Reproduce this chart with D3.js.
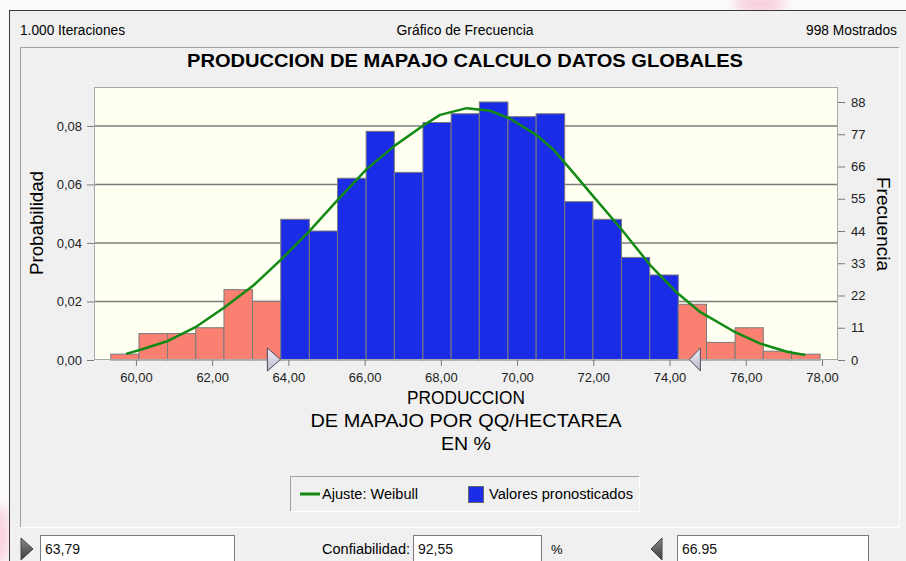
<!DOCTYPE html>
<html>
<head>
<meta charset="utf-8">
<script src="https://cdn.jsdelivr.net/npm/d3@7"></script>
<style>
  body { margin: 0; background: #fbfbfb; }
  svg { display: block; font-family: "Liberation Sans Narrow", "Arial Narrow", "Liberation Sans", Arial, sans-serif; }
</style>
</head>
<body>
<div id="chart"></div>
<script>
// histogram bins (lower edges + last upper edge) and counts
var binEdges = [59.34, 60.08, 60.83, 61.57, 62.31, 63.06, 63.80, 64.55, 65.29, 66.04, 66.78, 67.53, 68.27,
                69.01, 69.76, 70.50, 71.25, 71.99, 72.74, 73.48, 74.23, 74.97, 75.72, 76.46, 77.20, 77.95];
var frequency = [2, 9, 9, 11, 24, 20, 48, 44, 62, 78, 64, 81, 84, 88, 83, 84, 54, 48, 35, 29, 19, 6, 11, 3, 2];
var shown = 998;

// Weibull fit (x value, frequency)
var fitX    = [59.74, 60.10, 60.84, 61.59, 62.31, 63.08, 63.82, 64.57, 65.30, 66.06, 66.80, 67.54, 67.98, 68.68,
               69.29, 69.82, 70.52, 70.95, 71.39, 72.00, 72.70, 73.49, 74.19, 74.80, 75.68, 76.38, 77.08, 77.56];
var fitFreq = [2.1, 3.4, 6.5, 11.4, 17.8, 25.4, 34.4, 44.2, 54.7, 65.2, 73.2, 80.0, 83.6, 85.9,
               85.0, 82.3, 76.6, 71.8, 65.2, 55.8, 45.2, 32.4, 23.0, 16.4, 9.8, 5.6, 2.8, 1.7];

var xTicks = [60, 62, 64, 66, 68, 70, 72, 74, 76, 78];
var probTicks = [0, 0.02, 0.04, 0.06, 0.08];
var freqTicks = [0, 11, 22, 33, 44, 55, 66, 77, 88];

var markerLeft = 63.79, markerRight = 74.52;
var fieldTexts = ["63,79", "92,55", "66.95"];

var W = 906, H = 561;
var plot = { left: 94, right: 838, top: 87, bottom: 360 };

var svg = d3.select("#chart").append("svg")
    .attr("width", W).attr("height", H);

var defs = svg.append("defs");
var blur = defs.append("filter").attr("id", "blur");
blur.append("feGaussianBlur").attr("stdDeviation", 6);
var mg = defs.append("linearGradient").attr("id", "markerGrad").attr("x1", 0).attr("y1", 0).attr("x2", 0).attr("y2", 1);
mg.append("stop").attr("offset", "0%").attr("stop-color", "#f0f0f8");
mg.append("stop").attr("offset", "100%").attr("stop-color", "#b8b8cc");

// faint pink watermark bits
svg.append("ellipse").attr("cx", 760).attr("cy", 4).attr("rx", 26).attr("ry", 10)
    .attr("fill", "#f6a8c8").attr("opacity", 0.55).attr("filter", "url(#blur)");
svg.append("ellipse").attr("cx", 0).attr("cy", 535).attr("rx", 10).attr("ry", 30)
    .attr("fill", "#f6a8c8").attr("opacity", 0.5).attr("filter", "url(#blur)");

// window frame
svg.append("rect").attr("x", 9.5).attr("y", 10.5).attr("width", W).attr("height", H)
    .attr("fill", "#f0f0f0").attr("stroke", "#3a3a3a");

// sunken inner panel
svg.append("path").attr("d", "M20.5,527 V47.5 H899.5").attr("fill", "none").attr("stroke", "#a0a0a0");
svg.append("path").attr("d", "M20.5,527.5 H899.5 V47.5").attr("fill", "none").attr("stroke", "#ffffff");

// header texts
svg.append("text").attr("x", 20).attr("y", 35).attr("font-size", 14)
    .attr("textLength", 105).attr("lengthAdjust", "spacingAndGlyphs").text("1.000 Iteraciones");
svg.append("text").attr("x", 465).attr("y", 35).attr("font-size", 14).attr("text-anchor", "middle")
    .attr("textLength", 137).attr("lengthAdjust", "spacingAndGlyphs").text("Gráfico de Frecuencia");
svg.append("text").attr("x", 897).attr("y", 35).attr("font-size", 14).attr("text-anchor", "end")
    .attr("textLength", 91).attr("lengthAdjust", "spacingAndGlyphs").text("998 Mostrados");

svg.append("text").attr("x", 465).attr("y", 67).attr("font-size", 19).attr("font-weight", "bold")
    .attr("font-family", "Liberation Sans, Arial, sans-serif")
    .attr("text-anchor", "middle").attr("textLength", 556).attr("lengthAdjust", "spacingAndGlyphs")
    .text("PRODUCCION DE MAPAJO CALCULO DATOS GLOBALES");

// scales
var x = d3.scaleLinear().domain([58.9, 78.42]).range([plot.left, plot.right]);
var yProb = d3.scaleLinear().domain([0, 0.0933]).range([plot.bottom, plot.top]);
var yFreq = d3.scaleLinear().domain([0, 0.0933 * shown]).range([plot.bottom, plot.top]);

var comma = function(f) { return function(v) { return d3.format(f)(v).replace(".", ","); }; };

svg.append("rect").attr("x", plot.left).attr("y", plot.top)
    .attr("width", plot.right - plot.left).attr("height", plot.bottom - plot.top)
    .attr("fill", "#fffff2");

// grid
svg.append("g").selectAll("line").data(probTicks.slice(1)).join("line")
    .attr("x1", plot.left).attr("x2", plot.right)
    .attr("y1", d => yProb(d)).attr("y2", d => yProb(d))
    .attr("stroke", "#7c7c7c").attr("stroke-width", 1.5);

// bars
var bins = frequency.map((f, i) => ({ lo: binEdges[i], hi: binEdges[i + 1], f: f }));
svg.append("g").selectAll("rect").data(bins).join("rect")
    .attr("x", d => x(d.lo)).attr("width", d => x(d.hi) - x(d.lo))
    .attr("y", d => yFreq(d.f)).attr("height", d => plot.bottom - yFreq(d.f))
    .attr("fill", d => (d.lo >= markerLeft - 0.02 && d.hi <= markerRight) ? "#1b2ce6" : "#fa8072")
    .attr("stroke", "#7a7a7a").attr("stroke-width", 1);

// fit curve
var line = d3.line().x(d => x(d[0])).y(d => yFreq(d[1]));
svg.append("path").datum(fitX.map((v, i) => [v, fitFreq[i]]))
    .attr("d", line).attr("fill", "none").attr("stroke", "#138a13").attr("stroke-width", 2.5)
    .attr("stroke-linejoin", "round");

// plot border
svg.append("rect").attr("x", plot.left + 0.5).attr("y", plot.top + 0.5)
    .attr("width", plot.right - plot.left - 1).attr("height", plot.bottom - plot.top - 1)
    .attr("fill", "none").attr("stroke", "#a8a8a8");

// axes
var axL = svg.append("g").attr("transform", `translate(${plot.left},0)`)
    .call(d3.axisLeft(yProb).tickValues(probTicks).tickFormat(comma(".2f")).tickSize(7).tickPadding(5));
var axR = svg.append("g").attr("transform", `translate(${plot.right},0)`)
    .call(d3.axisRight(yFreq).tickValues(freqTicks).tickSize(7).tickPadding(6));
var axB = svg.append("g").attr("transform", `translate(0,${plot.bottom})`)
    .call(d3.axisBottom(x).tickValues(xTicks).tickFormat(comma(".2f")).tickSize(6).tickPadding(7));
[axL, axR, axB].forEach(function(a) {
  a.select(".domain").remove();
  a.selectAll(".tick line").attr("stroke", "#7a7a7a");
  a.selectAll(".tick text").attr("font-size", 13).attr("fill", "#222")
      .attr("font-family", "Liberation Sans Narrow, Arial Narrow, Liberation Sans, sans-serif");
});

// axis titles
svg.append("text").attr("transform", "translate(43,223) rotate(-90)").attr("text-anchor", "middle")
    .attr("font-size", 18).attr("textLength", 104).attr("lengthAdjust", "spacingAndGlyphs").text("Probabilidad");
svg.append("text").attr("transform", "translate(877,224) rotate(90)").attr("text-anchor", "middle")
    .attr("font-size", 18).attr("textLength", 94).attr("lengthAdjust", "spacingAndGlyphs").text("Frecuencia");

var xTitle = [["PRODUCCION", 118], ["DE MAPAJO POR QQ/HECTAREA", 311], ["EN %", 50]];
svg.append("g").selectAll("text").data(xTitle).join("text")
    .attr("x", 466).attr("y", (d, i) => 404 + i * 23).attr("text-anchor", "middle")
    .attr("font-size", 18).attr("textLength", d => d[1]).attr("lengthAdjust", "spacingAndGlyphs")
    .text(d => d[0]);

// certainty markers on the axis
var mTop = 348, mBot = 371;
svg.append("path")
    .attr("d", `M${x(markerLeft) - 13},${mTop} L${x(markerLeft)},${(mTop + mBot) / 2} L${x(markerLeft) - 13},${mBot} Z`)
    .attr("fill", "url(#markerGrad)").attr("stroke", "#4a4a5a").attr("stroke-width", 1);
svg.append("path")
    .attr("d", `M${x(markerRight) + 11},${mTop} L${x(markerRight)},${(mTop + mBot) / 2} L${x(markerRight) + 11},${mBot} Z`)
    .attr("fill", "url(#markerGrad)").attr("stroke", "#4a4a5a").attr("stroke-width", 1);

// legend
var lg = svg.append("g");
lg.append("path").attr("d", "M290.5,511 V476.5 H639.5").attr("fill", "none").attr("stroke", "#a0a0a0");
lg.append("path").attr("d", "M290.5,511.5 H639.5 V476.5").attr("fill", "none").attr("stroke", "#ffffff");
lg.append("line").attr("x1", 300).attr("x2", 320).attr("y1", 494).attr("y2", 494)
    .attr("stroke", "#138a13").attr("stroke-width", 3);
lg.append("text").attr("x", 322).attr("y", 499).attr("font-size", 14)
    .attr("font-family", "Liberation Sans, Arial, sans-serif").attr("textLength", 96)
    .attr("lengthAdjust", "spacingAndGlyphs").text("Ajuste: Weibull");
lg.append("rect").attr("x", 468.5).attr("y", 486.5).attr("width", 15).attr("height", 16)
    .attr("fill", "#1b2ce6").attr("stroke", "#666");
lg.append("text").attr("x", 489).attr("y", 499).attr("font-size", 14)
    .attr("font-family", "Liberation Sans, Arial, sans-serif").attr("textLength", 144)
    .attr("lengthAdjust", "spacingAndGlyphs").text("Valores pronosticados");

// bottom controls
var bg = defs.append("linearGradient").attr("id", "darkGrad").attr("x1", 0).attr("y1", 0).attr("x2", 0).attr("y2", 1);
bg.append("stop").attr("offset", "0%").attr("stop-color", "#8a8a8a");
bg.append("stop").attr("offset", "100%").attr("stop-color", "#3c3c3c");
svg.append("path").attr("d", "M21,538 L33,549 L21,560 Z").attr("fill", "url(#darkGrad)").attr("stroke", "#444");
svg.append("path").attr("d", "M662,538 L651,549 L662,560 Z").attr("fill", "url(#darkGrad)").attr("stroke", "#444");

var boxes = [[40, 234], [413, 541], [677, 868]];
svg.append("g").selectAll("rect").data(boxes).join("rect")
    .attr("x", d => d[0] + 0.5).attr("y", 535.5).attr("width", d => d[1] - d[0]).attr("height", 30)
    .attr("fill", "#ffffff").attr("stroke", "#7a7a7a");
svg.append("g").selectAll("text").data(boxes).join("text")
    .attr("x", d => d[0] + 5).attr("y", 554).attr("font-size", 14).attr("fill", "#111")
    .text((d, i) => fieldTexts[i]);
svg.append("text").attr("x", 410).attr("y", 554).attr("font-size", 14).attr("text-anchor", "end")
    .attr("textLength", 88).attr("lengthAdjust", "spacingAndGlyphs").text("Confiabilidad:");
svg.append("text").attr("x", 551).attr("y", 554).attr("font-size", 13).text("%");
</script>
</body>
</html>
